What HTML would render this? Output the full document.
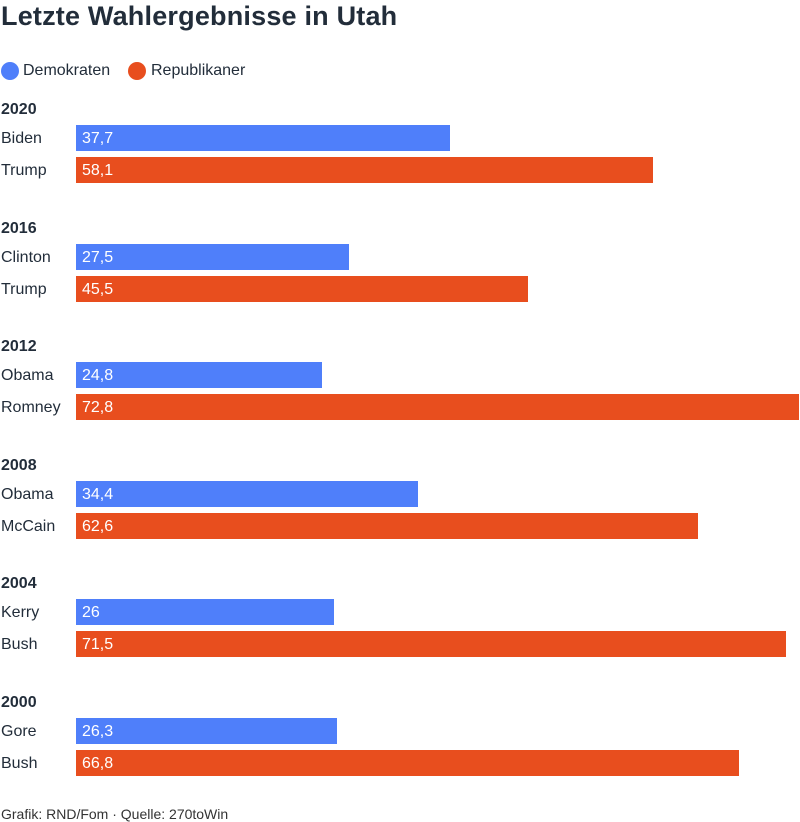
<!DOCTYPE html>
<html><head><meta charset="utf-8"><style>
body{margin:0;width:800px;height:812px;overflow:hidden;background:#fff;font-family:"Liberation Sans",sans-serif;color:#222d3a;position:relative}
.t{position:absolute;white-space:nowrap}
</style></head><body>
<div class="t" style="left:1px;top:1px;font-size:27px;font-weight:bold;letter-spacing:0.2px">Letzte Wahlergebnisse in Utah</div>
<div>
<div style="position:absolute;left:1px;top:62px;width:18px;height:18px;border-radius:50%;background:#4f7ffa"></div>
<div class="t" style="left:23px;top:62px;font-size:16px">Demokraten</div>
<div style="position:absolute;left:128px;top:62px;width:18px;height:18px;border-radius:50%;background:#e84e1e"></div>
<div class="t" style="left:151px;top:62px;font-size:16px">Republikaner</div>
</div>
<div id="chart"></div>
<div class="t" style="left:1px;top:806px;font-size:14px;color:#333">Grafik: RND/Fom · Quelle: 270toWin</div>
<script>
const years=["2020","2016","2012","2008","2004","2000"];
const demNames=["Biden","Clinton","Obama","Obama","Kerry","Gore"];
const repNames=["Trump","Trump","Romney","McCain","Bush","Bush"];
const demValues=[37.7,27.5,24.8,34.4,26,26.3];
const repValues=[58.1,45.5,72.8,62.6,71.5,66.8];
const x0=76,maxW=723,maxV=Math.max(...demValues,...repValues);
const sx=v=>v/maxV*maxW;
const chart=document.getElementById('chart');
function mk(tag,style,text){const e=document.createElement(tag);e.style.cssText=style;if(text!==undefined)e.textContent=text;chart.appendChild(e);return e;}
years.forEach((y,i)=>{
  const top=99+i*118.6;
  const yl=mk('div','position:absolute;left:1px;top:'+(top+2)+'px;font-size:16px;font-weight:bold',y);
  
  
  [[demNames[i],demValues[i],'#4f7ffa','dem'],[repNames[i],repValues[i],'#e84e1e','rep']].forEach((r,j)=>{
    const bt=top+26+j*32;
    const nl=mk('div','position:absolute;left:1px;top:'+(bt+5)+'px;font-size:16px;white-space:nowrap',r[0]);
    
    
    const b=mk('div','position:absolute;left:'+x0+'px;top:'+bt+'px;height:26px;width:'+sx(r[1])+'px;background:'+r[2]);
    
    
    const vl=mk('div','position:absolute;left:'+(x0+6)+'px;top:'+(bt+5)+'px;font-size:16px;color:#fff',String(r[1]).replace('.',','));
    
    
  });
});
</script>
</body></html>
